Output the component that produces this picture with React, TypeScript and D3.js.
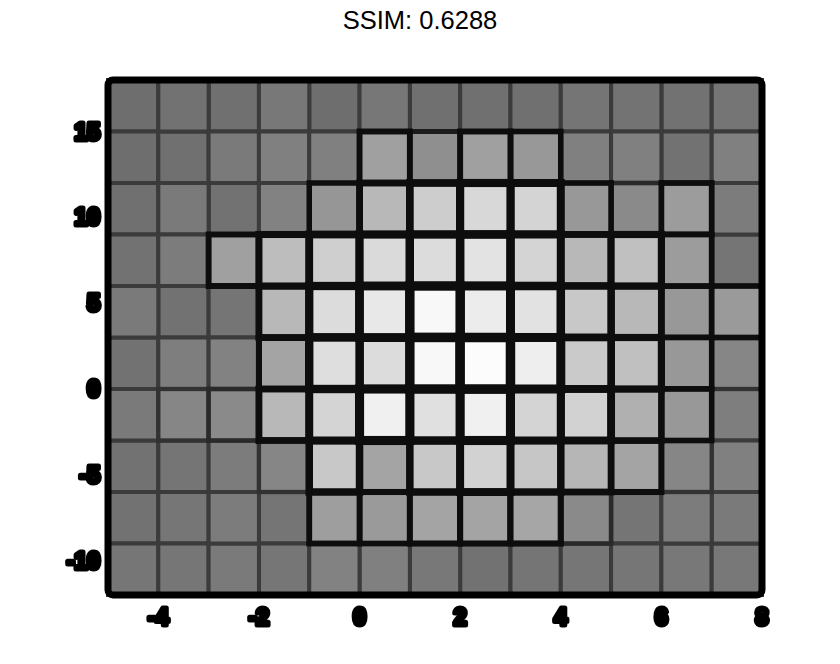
import { useRef, useEffect } from 'react';
import * as d3 from 'd3';

// left edge of each column (width 1) and bottom edge of each row (height 3)
const xStarts = [-5, -4, -3, -2, -1, 0, 1, 2, 3, 4, 5, 6, 7];
const yStarts = [15, 12, 9, 6, 3, 0, -3, -6, -9, -12];

// brightness of each cell, top row first
const cellValues = [
  [110, 114, 112, 120, 110, 119, 111, 112, 112, 117, 115, 114, 117],
  [110, 111, 122, 128, 128, 160, 143, 160, 152, 128, 128, 114, 128],
  [112, 122, 114, 130, 150, 184, 205, 216, 212, 152, 138, 156, 124],
  [114, 124, 160, 189, 207, 218, 220, 227, 212, 184, 192, 156, 116],
  [122, 114, 117, 184, 220, 232, 248, 236, 226, 200, 184, 152, 154],
  [114, 126, 130, 164, 222, 220, 248, 252, 238, 202, 192, 152, 134],
  [122, 134, 138, 184, 212, 240, 224, 240, 212, 210, 176, 152, 126],
  [114, 116, 124, 134, 200, 164, 200, 210, 198, 182, 164, 134, 128],
  [114, 118, 124, 116, 158, 154, 164, 164, 166, 138, 116, 124, 122],
  [118, 118, 122, 118, 130, 128, 120, 114, 116, 118, 118, 120, 120],
];

const xTicks = [-4, -2, 0, 2, 4, 6, 8];
const yTicks = [15, 10, 5, 0, -5, -10];
const title = "SSIM: 0.6288";

export default function App() {
  const svgRef = useRef(null);

  useEffect(() => {
    const width = 840;
    const height = 664;
    const margin = { top: 80, right: 78, bottom: 69, left: 108 };

    const svg = d3.select(svgRef.current);
    svg.selectAll("*").remove();

    // soft edges like the reference
    svg.append("defs")
      .append("filter")
      .attr("id", "soft")
      .append("feGaussianBlur")
      .attr("stdDeviation", 0.7);

    const x = d3.scaleLinear().domain([-5, 8]).range([margin.left, width - margin.right]);
    const y = d3.scaleLinear().domain([-12, 18]).range([height - margin.bottom, margin.top]);

    const gray = d3.scaleLinear<string>().domain([108, 252]).range(["#6c6c6c", "#fcfcfc"]);
    const strokeW = d3.scaleLinear().domain([130, 150, 250]).range([4, 5.5, 9.5]).clamp(true);
    const strokeC = d3.scaleLinear<string>().domain([130, 152]).range(["#3a3a3a", "#0a0a0a"]).clamp(true);

    const cells = [];
    cellValues.forEach((row, r) => {
      row.forEach((v, c) => cells.push({ r, c, v }));
    });
    // brighter cells last so their heavier outline sits on top
    cells.sort((a, b) => a.v - b.v);

    const g = svg.append("g").attr("filter", "url(#soft)");

    g.append("g")
      .selectAll("rect")
      .data(cells)
      .join("rect")
      .attr("x", d => x(xStarts[d.c]))
      .attr("y", d => y(yStarts[d.r] + 3))
      .attr("width", d => x(xStarts[d.c] + 1) - x(xStarts[d.c]))
      .attr("height", d => y(yStarts[d.r]) - y(yStarts[d.r] + 3))
      .attr("fill", d => gray(d.v))
      .attr("stroke", d => strokeC(d.v))
      .attr("stroke-width", d => strokeW(d.v));

    // frame
    g.append("rect")
      .attr("x", margin.left)
      .attr("y", margin.top)
      .attr("width", width - margin.left - margin.right)
      .attr("height", height - margin.top - margin.bottom)
      .attr("rx", 5)
      .attr("fill", "none")
      .attr("stroke", "#000")
      .attr("stroke-width", 7);

    // plain hyphen for negatives, the reference minus is a short blob
    const fmt = (d) => String(d);
    const labelStyle = (sel) => sel
      .attr("font-family", "'Liberation Sans', Arial, sans-serif")
      .attr("font-weight", "bold")
      .attr("font-size", 23)
      .attr("fill", "#000")
      .attr("stroke", "#000")
      .attr("stroke-width", 5)
      .attr("stroke-linejoin", "round");

    g.append("g")
      .selectAll("text")
      .data(xTicks)
      .join("text")
      .attr("x", d => x(d))
      .attr("y", height - margin.bottom + 22)
      .attr("text-anchor", "middle")
      .attr("dominant-baseline", "central")
      .call(labelStyle)
      .text(d => fmt(d));

    g.append("g")
      .selectAll("text")
      .data(yTicks)
      .join("text")
      .attr("x", margin.left - 8)
      .attr("y", d => y(d))
      .attr("text-anchor", "end")
      .attr("dominant-baseline", "central")
      .call(labelStyle)
      .text(d => fmt(d));

    svg.append("text")
      .attr("x", width / 2)
      .attr("y", 29)
      .attr("text-anchor", "middle")
      .attr("font-family", "'Liberation Sans', Arial, sans-serif")
      .attr("font-size", 25.5)
      .attr("fill", "#000")
      .text(title);
  }, []);

  return (
    <svg
      ref={svgRef}
      width={840}
      height={664}
      style={{ position: 'absolute', left: 0, top: 0, background: '#fff' }}
    />
  );
}
